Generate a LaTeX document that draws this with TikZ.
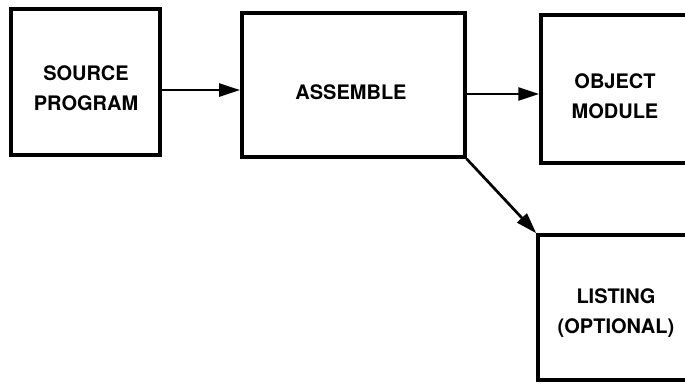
\documentclass[tikz,border=0pt]{standalone}
\usepackage{fontspec}
\setmainfont{TeX Gyre Heros}
\usetikzlibrary{arrows.meta}
\begin{document}
\begin{tikzpicture}[x=1pt,y=-1pt,
  box/.style={draw=black, line width=3.5pt, rectangle, inner sep=0pt},
  lbl/.style={font=\fontsize{20}{30}\selectfont\bfseries, align=center, inner sep=0pt},
  arr/.style={line width=2.7pt, -{Triangle[length=21pt,width=13pt]}}]
\useasboundingbox (0,0) rectangle (685,383);
\node[box, minimum width=149pt, minimum height=146pt] (src) at (85.5,82) {};
\node[box, minimum width=223pt, minimum height=144pt] (asm) at (353.3,85) {};
\node[box, minimum width=160pt, minimum height=148pt] (obj) at (621,89) {};
\node[box, minimum width=162pt, minimum height=145pt] (lst) at (619,307.5) {};
\node[lbl] (srcT) at (86,88) {SOURCE\\PROGRAM};
\node[lbl] (asmT) at (351,92) {ASSEMBLE};
\node[lbl] (objT) at (615,96) {OBJECT\\MODULE};
\node[lbl] (lstT) at (616,313) {LISTING\\(OPTIONAL)};
\coordinate (ya) at (0,90);
\coordinate (yb) at (0,94);
\draw[arr] (src.east |- ya) -- (asm.west |- ya);
\draw[arr] (asm.east |- yb) -- (obj.west |- yb);
\draw[arr] (asm.south east) -- (lst.north west);
\end{tikzpicture}
\end{document}
